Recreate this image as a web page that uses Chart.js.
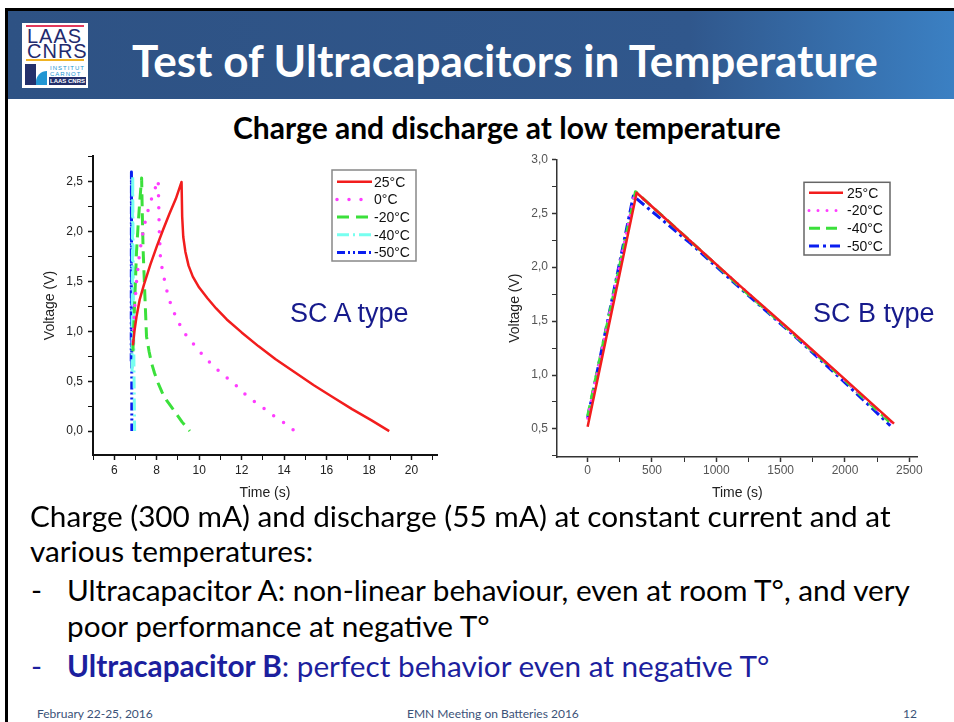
<!DOCTYPE html>
<html>
<head>
<meta charset="utf-8">
<script src="https://cdn.jsdelivr.net/npm/chart.js@4.4.1/dist/chart.umd.min.js"></script>
<style>
  body { margin: 0; background: #fff; }
  #slide { position: relative; width: 954px; height: 722px; overflow: hidden; background: #fff; font-family: Lato, "Open Sans", sans-serif; }
  .txt { position: absolute; white-space: nowrap; line-height: 1; }
  #topline { position: absolute; left: 5px; top: 8px; width: 949px; height: 3px; background: #000; }
  #leftline { position: absolute; left: 5px; top: 8px; width: 3px; height: 714px; background: #000; }
  #header { position: absolute; left: 8px; top: 11px; width: 946px; height: 88px;
    background: linear-gradient(to right, #2e5284 0%, #30578c 72%, #3b80c3 100%); }
  #logo { position: absolute; left: 22px; top: 23px; width: 66px; height: 65px; background: #fff; }
  #logo div { position: absolute; }
  .logo-big { font-family: "Liberation Sans", Arial, sans-serif; font-size: 20px; color: #1f2a6e; letter-spacing: 1px; line-height: 1; }
  .logo-small { font-family: "Liberation Sans", Arial, sans-serif; font-size: 6px; color: #2196d3; letter-spacing: 1px; line-height: 1; }
  .chartbox { position: absolute; }
  .sctype { position: absolute; font-family: "Liberation Sans", Arial, sans-serif; font-size: 27px; color: #161a8c; line-height: 1; white-space: nowrap; }
</style>
</head>
<body>
<div id="slide">
  <div id="header"></div>
  <div id="topline"></div>
  <div id="leftline"></div>
  <div id="logo">
    <div style="left:4px;top:2px;width:58px;height:1.5px;background:#e23a5c;"></div>
    <div class="logo-big" style="left:5px;top:3px;">LAAS</div>
    <div class="logo-big" style="left:5px;top:18px;">CNRS</div>
    <div style="left:4px;top:36px;width:58px;height:1.5px;background:#f0b323;"></div>
    <div style="left:3px;top:41px;width:11px;height:21px;background:#23306b;"></div>
    <div style="left:14px;top:48px;width:11px;height:14px;background:#2196d3;border-top-left-radius:11px;"></div>
    <div class="logo-small" style="left:28px;top:42px;">INSTITUT</div>
    <div class="logo-small" style="left:28px;top:48px;">CARNOT</div>
    <div style="left:27px;top:54px;width:37px;height:8px;background:#23306b;color:#fff;font:bold 6px 'Liberation Sans',Arial,sans-serif;line-height:8px;text-align:center;">LAAS CNRS</div>
  </div>

  <div class="txt" id="title" style="color:#fff;font-weight:bold;font-size:40px;">Test of Ultracapacitors in Temperature</div>
  <div class="txt" id="subtitle" style="color:#000;font-weight:bold;font-size:26px;">Charge and discharge at low temperature</div>

  <div class="chartbox" style="left:30px;top:150px;width:420px;height:352px;"><canvas id="chartA" width="420" height="352"></canvas></div>
  <div class="chartbox" style="left:490px;top:150px;width:460px;height:352px;"><canvas id="chartB" width="460" height="352"></canvas></div>
  <div class="sctype" style="left:290px;top:300px;">SC A type</div>
  <div class="sctype" style="left:813px;top:300px;">SC B type</div>

  <div class="txt body" id="l1" style="color:#000;font-size:27px;">Charge (300 mA) and discharge (55 mA) at constant current and at</div>
  <div class="txt body" id="l2" style="color:#000;">various temperatures:</div>
  <div class="txt body" id="d3" style="color:#000;">-</div>
  <div class="txt body" id="l3" style="color:#000;">Ultracapacitor A: non-linear behaviour, even at room T°, and very</div>
  <div class="txt body" id="l4" style="color:#000;">poor performance at negative T°</div>
  <div class="txt body" id="d5" style="color:#1c1f9e;">-</div>
  <div class="txt body" id="l5" style="color:#1c1f9e;"><b>Ultracapacitor B</b>: perfect behavior even at negative T°</div>

  <div class="txt foot" id="f1" style="color:#3b5278;font-size:14px;">February 22-25, 2016</div>
  <div class="txt foot" id="f2" style="color:#3b5278;">EMN Meeting on Batteries 2016</div>
  <div class="txt foot" id="f3" style="color:#3b5278;">12</div>
</div>

<script>
// ---- SC A type (left panel), time in s, voltage in V
const tempA = ['25°C', '0°C', '-20°C', '-40°C', '-50°C'];
const timeA25 = [6.88, 6.95, 7.05, 7.2, 7.4, 7.7, 8.0, 8.3, 8.6, 8.9, 9.17, 9.2, 9.25, 9.35, 9.5, 9.7, 10.0, 10.4, 10.8, 11.3, 12.0, 12.8, 13.6, 14.5, 15.4, 16.3, 17.2, 18.1, 18.95];
const voltA25 = [0.86, 1.0, 1.15, 1.32, 1.47, 1.67, 1.85, 2.02, 2.18, 2.33, 2.5, 2.15, 1.95, 1.8, 1.66, 1.55, 1.44, 1.33, 1.23, 1.12, 0.99, 0.85, 0.72, 0.59, 0.46, 0.34, 0.22, 0.11, 0.0];
const timeA0 = [6.88, 6.95, 7.05, 7.2, 7.4, 7.6, 7.8, 7.95, 8.07, 8.12, 8.18, 8.3, 8.54, 8.77, 9.24, 9.71, 10.18, 10.73, 11.28, 11.83, 12.3, 12.85, 13.4, 13.95, 14.5];
const voltA0 = [0.9, 1.2, 1.5, 1.8, 2.05, 2.22, 2.36, 2.45, 2.52, 2.02, 1.72, 1.58, 1.35, 1.21, 1.0, 0.88, 0.76, 0.64, 0.54, 0.44, 0.34, 0.26, 0.17, 0.09, 0.0];
const timeAm20 = [6.88, 6.93, 6.98, 7.05, 7.12, 7.2, 7.29, 7.32, 7.36, 7.44, 7.52, 7.64, 7.76, 7.9, 8.07, 8.25, 8.46, 8.7, 8.93, 9.2, 9.56];
const voltAm20 = [0.8, 1.1, 1.4, 1.8, 2.05, 2.3, 2.54, 2.2, 1.82, 1.38, 0.95, 0.8, 0.68, 0.58, 0.48, 0.39, 0.31, 0.24, 0.17, 0.09, 0.0];
const timeAm40 = [6.84, 6.87, 6.9, 6.93, 6.96];
const voltAm40 = [0.6, 2.56, 1.4, 0.6, 0.0];
const timeAm50 = [6.8, 6.81, 6.83];
const voltAm50 = [0.7, 2.6, 0.0];
const xTicksA = [6, 8, 10, 12, 14, 16, 18, 20];
const yTicksA = [0, 0.5, 1, 1.5, 2, 2.5];

// ---- SC B type (right panel)
const tempB = ['25°C', '-20°C', '-40°C', '-50°C'];
const timeB25 = [0, 381, 800, 1200, 1600, 2000, 2381];
const voltB25 = [0.52, 2.69, 2.24, 1.81, 1.39, 0.96, 0.55];
const timeBm20 = [0, 368, 800, 1200, 1600, 2000, 2372];
const voltBm20 = [0.6, 2.7, 2.24, 1.81, 1.38, 0.95, 0.55];
const timeBm40 = [0, 372, 800, 1200, 1600, 2000, 2368];
const voltBm40 = [0.62, 2.7, 2.24, 1.8, 1.38, 0.95, 0.54];
const timeBm50 = [0, 355, 800, 1200, 1600, 2000, 2352];
const voltBm50 = [0.6, 2.66, 2.22, 1.79, 1.37, 0.93, 0.53];
const xTicksB = [0, 500, 1000, 1500, 2000, 2500];
const yTicksB = [0.5, 1, 1.5, 2, 2.5, 3];

function pairs(xs, ys) {
  return xs.map((x, i) => ({ x: x, y: ys[i] }));
}
function isIn(list, v) {
  return list.some(t => Math.abs(t - v) < 1e-6);
}

const arial = '"Liberation Sans", Arial, sans-serif';

// legend drawn inside the plot, like the Origin frames
const insideLegend = {
  id: 'insideLegend',
  afterDatasetsDraw(chart, args, o) {
    const ctx = chart.ctx;
    ctx.save();
    ctx.fillStyle = '#fff';
    ctx.fillRect(o.x, o.y, o.w, o.h);
    ctx.strokeStyle = o.frame;
    ctx.lineWidth = 1.5;
    ctx.strokeRect(o.x, o.y, o.w, o.h);
    chart.data.datasets.forEach((ds, i) => {
      const y = o.y + o.first + i * o.gap;
      ctx.beginPath();
      ctx.setLineDash(ds.borderDash || []);
      ctx.lineCap = ds.borderCapStyle || 'butt';
      ctx.strokeStyle = ds.borderColor;
      ctx.lineWidth = ds.borderWidth;
      ctx.moveTo(o.x0, y);
      ctx.lineTo(o.x1, y);
      ctx.stroke();
      ctx.setLineDash([]);
      ctx.fillStyle = '#111';
      ctx.font = '14px ' + arial;
      ctx.textBaseline = 'middle';
      ctx.fillText(ds.label, o.xt, y + 1);
    });
    ctx.restore();
  }
};

function line(label, xs, ys, color, width, dash, cap) {
  return {
    label: label, data: pairs(xs, ys), showLine: true, pointRadius: 0,
    borderColor: color, borderWidth: width, borderDash: dash,
    borderCapStyle: cap || 'butt', borderJoinStyle: 'round', tension: 0
  };
}

// one tick every cfg.step (minor), labels only on the listed major values
function axis(cfg) {
  return {
    type: 'linear', min: cfg.min, max: cfg.max,
    border: { color: cfg.axisColor, width: cfg.axisWidth },
    grid: {
      drawOnChartArea: false, tickLength: 5, tickColor: cfg.axisColor,
      tickWidth: c => (c.tick && isIn(cfg.major, c.tick.value)) ? 1.5 : 1
    },
    ticks: {
      autoSkip: false, maxRotation: 0,
      padding: cfg.pad, color: cfg.tickColor, font: { family: arial, size: 12 },
      callback: v => isIn(cfg.major, v) ? cfg.fmt(v) : ''
    },
    afterBuildTicks: s => {
      const t = [];
      for (let v = cfg.first; v <= cfg.max + 1e-9; v += cfg.step) t.push({ value: +v.toFixed(6) });
      s.ticks = t;
    },
    title: { display: true, text: cfg.title, color: '#222', font: { family: arial, size: 14 }, padding: cfg.titlePad },
    afterFit: s => {
      if (s.isHorizontal()) s.height = cfg.size; else s.width = cfg.size;
      s.paddingLeft = 0; s.paddingRight = 0; s.paddingTop = 0; s.paddingBottom = 0;
    }
  };
}

const comma = v => v.toFixed(1).replace('.', ',');

new Chart(document.getElementById('chartA'), {
  type: 'scatter',
  data: {
    datasets: [
      line(tempA[0], timeA25, voltA25, '#f21d1d', 2.5, []),
      line(tempA[1], timeA0, voltA0, '#ff3cff', 3.5, [0, 12], 'round'),
      line(tempA[2], timeAm20, voltAm20, '#3be03b', 3, [12, 7]),
      line(tempA[3], timeAm40, voltAm40, '#77fff0', 3, [12, 4, 2, 4]),
      line(tempA[4], timeAm50, voltAm50, '#0a1ef0', 3, [8, 3, 2, 3, 2, 3])
    ]
  },
  options: {
    responsive: false, animation: false,
    layout: { padding: { top: 6, right: 13, left: 0, bottom: 0 } },
    plugins: {
      legend: { display: false }, tooltip: { enabled: false },
      insideLegend: { x: 302, y: 20, w: 84, h: 91, first: 11.7, gap: 17.7, x0: 307, x1: 342, xt: 344, frame: '#888' }
    },
    scales: {
      x: axis({ min: 5, max: 21.2, first: 5, step: 1, major: xTicksA, fmt: v => String(v), axisColor: '#111', axisWidth: 2,
                tickColor: '#222', pad: 3, size: 47, title: 'Time (s)', titlePad: 0 }),
      y: axis({ min: -0.24, max: 2.76, first: 0, step: 0.25, major: yTicksA, fmt: comma, axisColor: '#111', axisWidth: 2,
                tickColor: '#222', pad: 5, size: 63, title: 'Voltage (V)', titlePad: { top: 11.6 } })
    }
  },
  plugins: [insideLegend]
});

new Chart(document.getElementById('chartB'), {
  type: 'scatter',
  data: {
    datasets: [
      line(tempB[0], timeB25, voltB25, '#f21d1d', 2.5, []),
      line(tempB[1], timeBm20, voltBm20, '#ff3cff', 3, [0, 9], 'round'),
      line(tempB[2], timeBm40, voltBm40, '#3be03b', 3, [11, 6]),
      line(tempB[3], timeBm50, voltBm50, '#0a1ef0', 3, [10, 4, 3, 4])
    ]
  },
  options: {
    responsive: false, animation: false,
    layout: { padding: { top: 9.3, right: 32.3, left: 0, bottom: 0 } },
    plugins: {
      legend: { display: false }, tooltip: { enabled: false },
      insideLegend: { x: 314, y: 32.3, w: 86, h: 72.7, first: 10.4, gap: 17.8, x0: 319, x1: 353, xt: 357, frame: '#666' }
    },
    scales: {
      x: axis({ min: -238, max: 2565, first: 0, step: 250, major: xTicksB, fmt: v => String(v), axisColor: '#333', axisWidth: 1.5,
                tickColor: '#555', pad: 1, size: 45, title: 'Time (s)', titlePad: 0 }),
      y: axis({ min: 0.24, max: 3.0, first: 0.25, step: 0.25, major: yTicksB, fmt: comma, axisColor: '#333', axisWidth: 1.5,
                tickColor: '#555', pad: 4, size: 67, title: 'Voltage (V)', titlePad: { top: 16.6 } })
    }
  },
  plugins: [insideLegend]
});

// ---- slide text placement (fit width, then set baseline)
function fitText(el, width) {
  const w = el.getBoundingClientRect().width;
  const fs = parseFloat(getComputedStyle(el).fontSize);
  el.style.fontSize = (fs * width / w) + 'px';
}
function place(id, x, baseline) {
  const el = document.getElementById(id);
  const m = document.createElement('span');
  m.style.cssText = 'display:inline-block;width:0;height:0;';
  el.appendChild(m);
  el.style.left = x + 'px';
  el.style.top = '0px';
  const off = m.getBoundingClientRect().top - el.getBoundingClientRect().top;
  el.style.top = (baseline - off) + 'px';
  m.remove();
}

fitText(document.getElementById('title'), 746);
place('title', 132, 77);
fitText(document.getElementById('subtitle'), 548);
place('subtitle', 233, 139);

const l1 = document.getElementById('l1');
fitText(l1, 861);
const bodySize = getComputedStyle(l1).fontSize;
document.querySelectorAll('.body').forEach(el => { el.style.fontSize = bodySize; });
place('l1', 30, 527);
place('l2', 30, 562);
place('d3', 31, 601);
place('l3', 67, 601);
place('l4', 67, 637);
place('d5', 31, 677);
place('l5', 67, 677);

const f1 = document.getElementById('f1');
fitText(f1, 116);
const footSize = getComputedStyle(f1).fontSize;
document.querySelectorAll('.foot').forEach(el => { el.style.fontSize = footSize; });
place('f1', 37, 718);
place('f2', 407, 718);
place('f3', 903, 718);
</script>
</body>
</html>
